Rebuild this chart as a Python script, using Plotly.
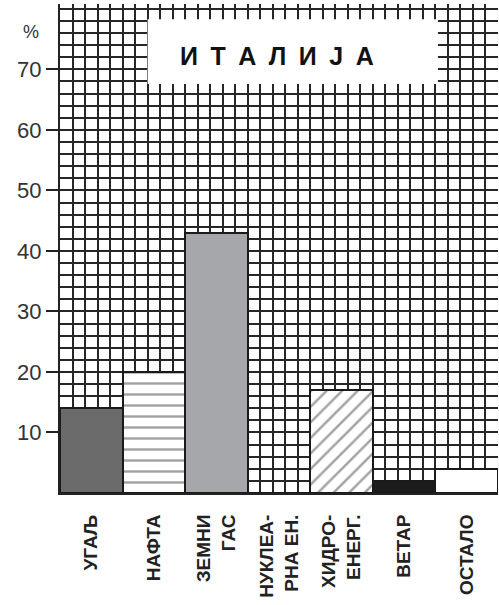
import numpy as np
import plotly.graph_objects as go

categories = ["УГАЉ", "НАФТА", "ЗЕМНИ<br>ГАС", "НУКЛЕА-<br>РНА ЕН.", "ХИДРО-<br>ЕНЕРГ.", "ВЕТАР", "ОСТАЛО"]
values = [14, 20, 43, 0, 17, 2, 4]
bar_colors = ["#6b6b6b", "#ffffff", "#a6a7aa", "#ffffff", "#ffffff", "#1c1c1c", "#ffffff"]
bar_patterns = ["", "-", "", "", "/", "", ""]
y_ticks = [10, 20, 30, 40, 50, 60, 70]
title_text = "И\u2002Т\u2002А\u2002Л\u2002И\u2002Ј\u2002А"

xpos = list(range(len(categories)))

fig = go.Figure()
fig.add_trace(go.Bar(
    x=xpos, y=values, width=1.0,
    marker=dict(
        color=bar_colors,
        line=dict(color="#1a1a1a", width=2),
        pattern=dict(shape=bar_patterns, fgcolor="#1a1a1a", size=11,
                     solidity=0.22, fillmode="overlay"),
    ),
    showlegend=False,
))

grid_color = "#262626"
x_minor = list(np.round(np.arange(-0.5, 6.51, 0.2), 4))

fig.update_xaxes(
    range=[-0.5, 6.5], automargin=False,
    tickmode="array", tickvals=xpos, ticktext=categories,
    tickangle=-90,
    tickfont=dict(family="Liberation Sans, Arial", size=19, color="#222", weight="bold"),
    showgrid=False, zeroline=False,
    showline=True, linecolor="#222", linewidth=2,
    ticks="", ticklabelstandoff=12,
    minor=dict(tickmode="array", tickvals=x_minor, showgrid=True,
               gridcolor=grid_color, gridwidth=2, ticks=""),
)
fig.update_yaxes(
    range=[0, 80.8], automargin=False,
    tickmode="array", tickvals=y_ticks,
    tickfont=dict(family="Liberation Sans, Arial", size=22, color="#333"),
    showgrid=True, gridcolor=grid_color, gridwidth=2,
    zeroline=False,
    showline=True, linecolor="#222", linewidth=2,
    ticks="outside", ticklen=12, tickwidth=2, tickcolor="#222",
    minor=dict(dtick=2, tick0=0, showgrid=True, gridcolor=grid_color,
               gridwidth=2, ticks=""),
)

fig.add_shape(type="rect", xref="x", yref="y", x0=0.9, x1=5.54, y0=67.6, y1=78.3,
              fillcolor="white", line=dict(width=0), layer="between")
fig.add_annotation(x=2.96, y=72.2, xref="x", yref="y", text=title_text,
                   showarrow=False,
                   font=dict(family="Liberation Sans, Arial", size=25, color="#111", weight="bold"))
fig.add_annotation(x=-0.09, y=76.2, xref="paper", yref="y", text="%",
                   showarrow=False,
                   font=dict(family="Liberation Sans, Arial", size=18, color="#333"))

fig.update_layout(
    width=499, height=605,
    margin=dict(l=60, r=1, t=4, b=112),
    plot_bgcolor="white", paper_bgcolor="white",
    bargap=0,
)

fig.write_html("out.html", config={"displayModeBar": False},
               post_script="document.body.style.margin='0';document.body.style.overflow='hidden';")
